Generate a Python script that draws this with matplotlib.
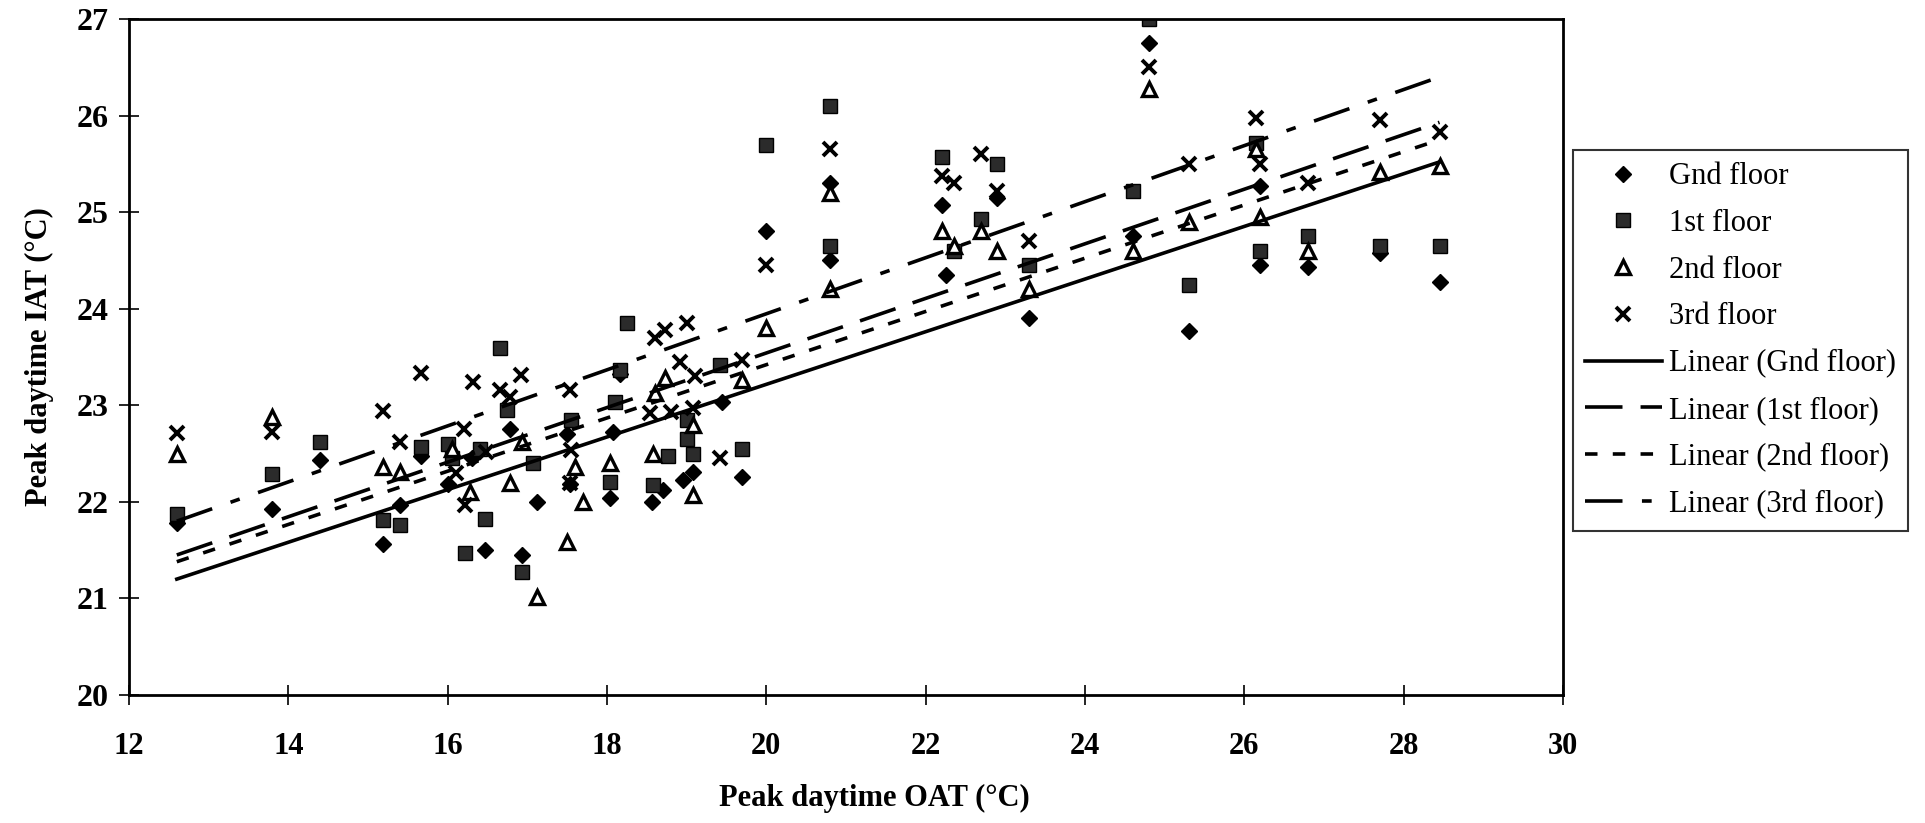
"""Peak daytime indoor vs outdoor air temperature by floor, with linear trendlines."""
import matplotlib
matplotlib.use("Agg")
import matplotlib.pyplot as plt
import numpy as np

plt.rcParams["font.family"] = ["Liberation Serif", "DejaVu Serif"]
plt.rcParams["lines.scale_dashes"] = False

# values (OAT, IAT in degC)
gnd_oat = [12.6, 13.8, 14.4, 15.19, 15.4, 15.66, 16.0, 16.3, 16.47, 16.78, 16.93, 17.12,
           17.5, 17.53, 18.04, 18.16, 18.08, 18.56, 18.7, 18.95, 19.08, 19.44, 19.7,
           20.0, 20.8, 20.8, 22.2, 22.25, 22.9, 23.3, 24.6, 24.8, 25.3, 26.2, 26.2,
           26.8, 27.7, 28.45]
gnd_iat = [21.78, 21.93, 22.43, 21.56, 21.97, 22.47, 22.19, 22.45, 21.5, 22.75, 21.45, 22.0,
           22.7, 22.19, 22.04, 23.32, 22.72, 22.0, 22.12, 22.23, 22.31, 23.03, 22.26,
           24.8, 25.3, 24.5, 25.07, 24.35, 25.15, 23.9, 24.75, 26.75, 23.77, 25.27, 24.45,
           24.43, 24.58, 24.28]

first_oat = [12.6, 13.8, 14.4, 15.19, 15.4, 15.66, 16.0, 16.05, 16.22, 16.4, 16.47, 16.66,
             16.75, 16.93, 17.07, 17.55, 18.04, 18.1, 18.16, 18.25, 18.58, 18.77, 19.0,
             19.0, 19.08, 19.42, 19.7, 20.0, 20.8, 20.8, 22.2, 22.35, 22.7, 22.9, 23.3,
             24.6, 24.8, 25.3, 26.15, 26.2, 26.8, 27.7, 28.45]
first_iat = [21.87, 22.29, 22.62, 21.81, 21.76, 22.57, 22.6, 22.45, 21.47, 22.55, 21.82, 23.59,
             22.95, 21.27, 22.4, 22.85, 22.21, 23.03, 23.37, 23.85, 22.17, 22.47, 22.85,
             22.65, 22.5, 23.42, 22.55, 25.7, 26.1, 24.65, 25.57, 24.6, 24.93, 25.5, 24.45,
             25.22, 27.0, 24.25, 25.72, 24.6, 24.75, 24.65, 24.65]

second_oat = [12.6, 13.8, 15.19, 15.4, 16.05, 16.28, 16.78, 16.93, 17.12, 17.5, 17.6, 17.7,
              18.04, 18.58, 18.6, 18.73, 19.08, 19.08, 19.7, 20.0, 20.8, 20.8, 22.2, 22.35,
              22.7, 22.9, 23.3, 24.6, 24.8, 25.3, 26.15, 26.2, 26.8, 27.7, 28.45]
second_iat = [22.5, 22.88, 22.36, 22.31, 22.55, 22.1, 22.2, 22.62, 21.01, 21.58, 22.36, 22.0,
              22.4, 22.5, 23.13, 23.28, 22.8, 22.07, 23.26, 23.8, 25.2, 24.2, 24.8, 24.65,
              24.8, 24.6, 24.2, 24.6, 26.27, 24.9, 25.65, 24.95, 24.6, 25.42, 25.48]

third_oat = [12.6, 13.8, 15.19, 15.4, 15.66, 16.1, 16.2, 16.22, 16.32, 16.48, 16.66, 16.78,
             16.92, 17.53, 17.55, 17.53, 18.54, 18.6, 18.73, 18.8, 18.92, 19.0, 19.08, 19.1,
             19.42, 19.7, 20.0, 20.8, 22.2, 22.35, 22.7, 22.9, 23.3, 24.8, 25.3, 26.15,
             26.2, 26.8, 27.7, 28.45]
third_iat = [22.71, 22.72, 22.94, 22.62, 23.33, 22.3, 22.75, 21.97, 23.24, 22.52, 23.16, 23.09,
             23.31, 23.16, 22.54, 22.2, 22.92, 23.7, 23.78, 22.93, 23.45, 23.85, 22.97, 23.3,
             22.45, 23.47, 24.45, 25.65, 25.37, 25.3, 25.6, 25.22, 24.7, 26.5, 25.5, 25.97,
             25.5, 25.3, 25.95, 25.83]

# linear trendline values at the lowest and highest OAT
trend_start = [21.2, 21.45, 21.38, 21.8]
trend_end = [25.52, 25.93, 25.75, 26.4]

floor_names = ["Gnd floor", "1st floor", "2nd floor", "3rd floor"]


def main():
    fig = plt.figure(figsize=(19.25, 8.23), dpi=100)
    ax = fig.add_axes([129 / 1925, 128 / 823, 1434 / 1925, 676 / 823])

    series = [(gnd_oat, gnd_iat), (first_oat, first_iat),
              (second_oat, second_iat), (third_oat, third_iat)]
    marker_kw = [
        dict(marker="D", ms=8.5, mfc="black", mec="black", mew=1),
        dict(marker="s", ms=9.5, mfc="#2b2b2b", mec="black", mew=1),
        dict(marker="^", ms=9.5, mfc="white", mec="black", mew=2.4),
        dict(marker="x", ms=10, mec="black", mew=2.8),
    ]
    handles = []
    for (x, y), name, kw in zip(series, floor_names, marker_kw):
        h, = ax.plot(x, y, ls="none", label=name, **kw)
        handles.append(h)

    dash_styles = ["-", (0, (27, 13)), (0, (9, 11)), (0, (27, 14, 7, 14))]
    for (x, _), name, y0, y1, ls in zip(series, floor_names, trend_start, trend_end, dash_styles):
        xs = [min(x), max(x)]
        h, = ax.plot(xs, [y0, y1], color="black", lw=2.6, ls=ls,
                     dash_capstyle="butt", label=f"Linear ({name})")
        handles.append(h)

    ax.set_xlim(12, 30)
    ax.set_ylim(20, 27)
    ax.set_xticks(np.arange(12, 31, 2))
    ax.set_yticks(np.arange(20, 28, 1))
    for sp in ax.spines.values():
        sp.set_linewidth(2.0)
    ax.tick_params(axis="both", direction="inout", length=14, width=1.2)
    ax.tick_params(axis="x", pad=20, labelsize=22)
    ax.tick_params(axis="y", pad=8, labelsize=23)
    for lab in ax.get_xticklabels() + ax.get_yticklabels():
        lab.set_fontweight("bold")

    ax.set_xlabel("Peak daytime OAT (°C)", fontsize=22, fontweight="bold")
    ax.set_ylabel("Peak daytime IAT (°C)", fontsize=22, fontweight="bold", labelpad=16)
    ax.xaxis.set_label_coords(0.52, -0.132)

    leg = ax.legend(handles=handles, loc="upper left",
                    bbox_to_anchor=(1573 / 1925, 673 / 823), bbox_transform=fig.transFigure,
                    borderaxespad=0, fontsize=22, numpoints=1, handlelength=2.5,
                    handletextpad=0.25, labelspacing=0.58, borderpad=0.4,
                    frameon=True, fancybox=False)
    leg.get_frame().set_edgecolor("black")
    leg.get_frame().set_linewidth(1.5)

    fig.savefig("out.png", dpi=100)


if __name__ == "__main__":
    main()
